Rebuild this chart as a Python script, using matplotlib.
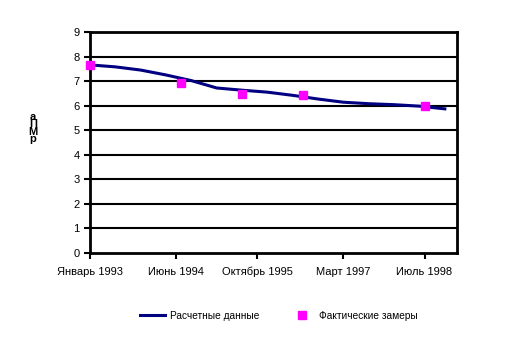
import numpy as np
import matplotlib.pyplot as plt

plt.rcParams['font.family'] = ['Liberation Sans', 'DejaVu Sans']

## Data: months counted from January 1993
calc_months = [0, 5, 10, 15, 20, 25, 30, 35, 40, 45, 50, 55, 60, 65, 70]
calc_values = [7.66, 7.58, 7.45, 7.25, 7.02, 6.72, 6.63, 6.55, 6.42, 6.27,
               6.14, 6.08, 6.04, 5.98, 5.87]

meas_months = [0, 18, 30, 42, 66]
meas_values = [7.66, 6.91, 6.46, 6.42, 5.98]

tick_months = [0, 17, 33, 50, 66]
tick_labels = ['Январь 1993', 'Июнь 1994', 'Октябрь 1995', 'Март 1997', 'Июль 1998']

## Figure
fig = plt.figure(figsize=(5.21, 3.39), dpi=100)
ax = fig.add_axes([90 / 521, 1 - 253 / 339, (457 - 90) / 521, (253 - 32) / 339])

for v in range(1, 10):
    ax.axhline(v, color='black', lw=1.5, zorder=1)

line, = ax.plot(calc_months, calc_values, color='#000080', lw=2.2, zorder=3,
                label='Расчетные данные', clip_on=False)
pts, = ax.plot(meas_months, meas_values, ls='none', marker='s', ms=6,
               color='#ff00ff', zorder=4, label='Фактические замеры', clip_on=False)

ax.set_xlim(0, 72.4)
ax.set_ylim(0, 9)
ax.set_yticks(range(0, 10))
ax.set_xticks(tick_months)
ax.set_xticklabels(tick_labels)
ax.tick_params(axis='both', direction='out', length=4, width=1.5,
               labelsize=8, colors='black')
ax.tick_params(axis='x', pad=6)
for s in ax.spines.values():
    s.set_linewidth(2)
    s.set_color('black')

fig.text(33 / 521, 1 - 128 / 339, 'а\nП\nМ\nр', fontsize=8, fontweight='bold',
         ha='center', va='center', linespacing=0.65)

fig.legend(handles=[line, pts], loc='center', bbox_to_anchor=(279 / 521, 1 - 316 / 339),
           ncol=2, frameon=False, fontsize=7.3, columnspacing=2.9, handlelength=2.5,
           handletextpad=0.5)

fig.savefig('out.png', dpi=100)
